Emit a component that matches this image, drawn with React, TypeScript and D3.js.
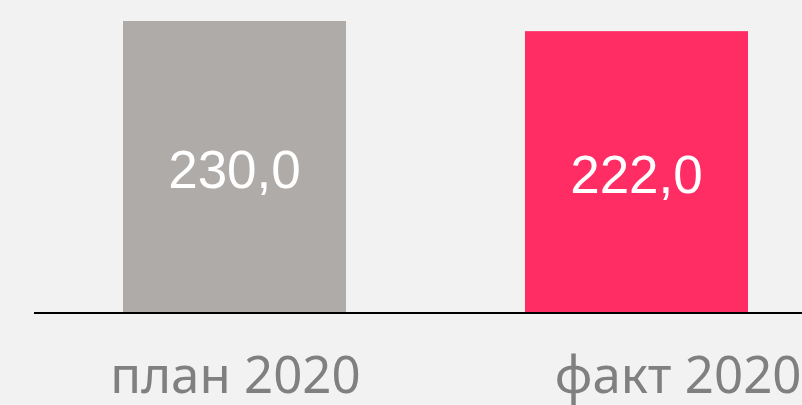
import React from "react";
import * as d3 from "d3";

const categories = ["план 2020", "факт 2020"];
const values = [230.0, 222.0];
const valueLabels = ["230,0", "222,0"];
const barColors = ["#afaba9", "#ff2d63"];

const W = 802;
const H = 405;

export default function App() {
  const baseY = 313;
  const x = d3
    .scaleBand<string>()
    .domain(categories)
    .range([34, 837])
    .paddingInner(0.4453)
    .paddingOuter(0.2214);
  const y = d3.scaleLinear().domain([0, 230]).range([baseY, 21]);

  return (
    <div style={{ position: "fixed", left: 0, top: 0, width: W, height: H }}>
      <svg width={W} height={H} style={{ display: "block" }}>
        <rect x={0} y={0} width={W} height={H} fill="#f2f2f2" />
        {categories.map((c, i) => {
          const bx = x(c)!;
          const by = y(values[i]);
          const bw = x.bandwidth();
          const bh = baseY - by;
          return (
            <g key={c}>
              <rect x={bx} y={by} width={bw} height={bh} fill={barColors[i]} />
              <text
                x={bx + bw / 2}
                y={by + bh / 2 + 20.5}
                textAnchor="middle"
                fill="#ffffff"
                fontFamily="'Liberation Sans', Arial, sans-serif"
                fontSize={53}
              >
                {valueLabels[i]}
              </text>
            </g>
          );
        })}
        <line x1={34} x2={W} y1={baseY} y2={baseY} stroke="#000" strokeWidth={2} />
        {categories.map((c, i) => {
          const last = i === categories.length - 1;
          return (
            <text
              key={"l" + c}
              x={last ? W - 0.5 : x(c)! + x.bandwidth() / 2 + 1}
              y={393.3}
              textAnchor={last ? "end" : "middle"}
              fill="#808080"
              fontFamily="'Noto Sans', sans-serif"
              fontSize={51}
            >
              {c}
            </text>
          );
        })}
      </svg>
    </div>
  );
}
